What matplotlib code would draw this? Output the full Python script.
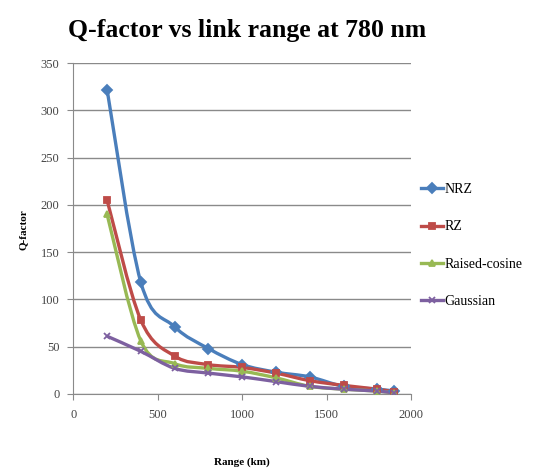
import numpy as np
import matplotlib
matplotlib.use('Agg')
import matplotlib.pyplot as plt
from matplotlib.path import Path
from matplotlib.patches import PathPatch
from matplotlib.lines import Line2D

# data
range_km = [200, 400, 600, 800, 1000, 1200, 1400, 1600, 1800, 1900]
q_nrz = [322, 118, 71, 48, 31, 23, 18, 8, 5, 3]
q_rz = [205, 78, 40, 31, 28, 22, 14, 9, 5, 2]
q_raised = [190, 56, 32, 27, 24, 17, 8, 5, 3, 1]
q_gauss = [61, 45, 27, 22, 18, 13, 8, 5, 3, 1]
series_names = ['NRZ', 'RZ', 'Raised-cosine', 'Gaussian']

colors = ['#4A7EBB', '#BE4B48', '#98B954', '#7D60A0']
markers = ['D', 's', '^', 'x']

plt.rcParams['font.family'] = ['Liberation Serif', 'DejaVu Serif']


def smooth_path(x, y):
    # Excel-like smoothed line: Catmull-Rom segments as cubic Bezier curves
    x = np.asarray(x, float)
    y = np.asarray(y, float)
    verts = [(x[0], y[0])]
    codes = [Path.MOVETO]
    n = len(x)
    for i in range(n - 1):
        x0, y0 = (x[i - 1], y[i - 1]) if i > 0 else (x[i], y[i])
        x3, y3 = (x[i + 2], y[i + 2]) if i + 2 < n else (x[i + 1], y[i + 1])
        c1 = (x[i] + (x[i + 1] - x0) / 6.0, y[i] + (y[i + 1] - y0) / 6.0)
        c2 = (x[i + 1] - (x3 - x[i]) / 6.0, y[i + 1] - (y3 - y[i]) / 6.0)
        verts += [c1, c2, (x[i + 1], y[i + 1])]
        codes += [Path.CURVE4] * 3
    return Path(verts, codes)


fig = plt.figure(figsize = (5.43, 4.74), dpi = 100)
ax = fig.add_axes([0.135, 0.169, 0.622, 0.698])

handles = []
for values, name, color, marker in zip([q_nrz, q_rz, q_raised, q_gauss], series_names, colors, markers):
    patch = PathPatch(smooth_path(range_km, values), facecolor = 'none', edgecolor = color,
        linewidth = 2.4, transform = ax.transData, zorder = 3)
    ax.add_patch(patch)
    ax.plot(range_km, values, linestyle = 'none', marker = marker, color = color,
        markersize = 5, markeredgewidth = 1.3, zorder = 4)
    handles.append(Line2D([], [], color = color, linewidth = 2.4, marker = marker,
        markersize = 5, markeredgewidth = 1.3, label = name))

ax.set_xlim(0, 2000)
ax.set_ylim(0, 350)
ax.set_xticks([0, 500, 1000, 1500, 2000])
ax.set_yticks(range(0, 351, 50))
ax.yaxis.grid(True, color = '#8a8a8a', linewidth = 1.0)
ax.set_axisbelow(True)
for side in ['top', 'right']:
    ax.spines[side].set_visible(False)
for side in ['left', 'bottom']:
    ax.spines[side].set_color('#8a8a8a')
ax.tick_params(axis = 'both', colors = '#8a8a8a', labelcolor = '#444444', labelsize = 9,
    length = 4, direction = 'out')
ax.tick_params(axis = 'x', pad = 7)
ax.tick_params(axis = 'y', pad = 6)

fig.text(0.455, 0.935, 'Q-factor vs link range at 780 nm', ha = 'center', va = 'center',
    fontsize = 18.5, fontweight = 'bold')
fig.text(0.042, 0.515, 'Q-factor', rotation = 90, ha = 'center', va = 'center',
    fontsize = 8, fontweight = 'bold')
fig.text(0.445, 0.025, 'Range (km)', ha = 'center', va = 'center',
    fontsize = 8, fontweight = 'bold')

fig.legend(handles = handles, loc = 'upper left', bbox_to_anchor = (0.752, 0.64),
    frameon = False, fontsize = 10, labelspacing = 1.75, handlelength = 1.6,
    handletextpad = 0.1)

fig.savefig('out.png', dpi = 100)
